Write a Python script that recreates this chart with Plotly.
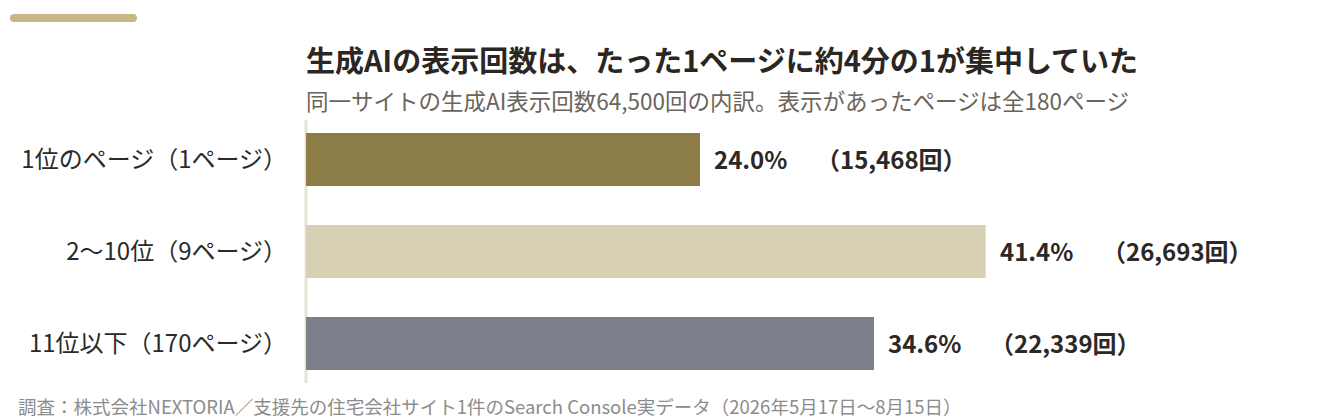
import plotly.graph_objects as go

categories = ["1位のページ（1ページ）", "2〜10位（9ページ）", "11位以下（170ページ）"]
shares = [24.0, 41.4, 34.6]
counts = [15468, 26693, 22339]
bar_colors = ["#8c7d47", "#d8d0b5", "#7d808b"]

title = "生成AIの表示回数は、たった1ページに約4分の1が集中していた"
subtitle = "同一サイトの生成AI表示回数64,500回の内訳。表示があったページは全180ページ"
source = "調査：株式会社NEXTORIA／支援先の住宅会社サイト1件のSearch Console実データ（2026年5月17日〜8月15日）"

FONT = "Noto Sans CJK JP"

# the page adds an 8px body margin, so the figure is laid out 8px up/left
# plot area (page px): x 306..1291, y 120..383
def px_x(p):
    return (p - 306) / 985

def px_y(p):
    return (383 - p) / 263

fig = go.Figure(go.Bar(
    x=shares,
    y=categories,
    orientation="h",
    marker=dict(color=bar_colors, line=dict(width=0)),
    width=0.576,
    hoverinfo="skip",
))

# value labels next to the bars
for cat, s, c in zip(categories, shares, counts):
    fig.add_annotation(x=s, y=cat, text=f"<b>{s:.1f}%</b>", showarrow=False,
                       xanchor="left", xshift=12, yshift=1,
                       font=dict(family=FONT, size=24, color="#2b2825"))
    fig.add_annotation(x=s, y=cat, text=f"<b>（{c:,}回）</b>", showarrow=False,
                       xanchor="left", xshift=114, yshift=1,
                       font=dict(family=FONT, size=24, color="#2b2825"))

fig.add_annotation(xref="paper", yref="paper", x=px_x(304), y=px_y(59),
                   text=f"<b>{title}</b>", showarrow=False, xanchor="left", yanchor="middle",
                   font=dict(family=FONT, size=29, color="#2b2622"))
fig.add_annotation(xref="paper", yref="paper", x=px_x(304), y=px_y(100),
                   text=subtitle, showarrow=False, xanchor="left", yanchor="middle",
                   font=dict(family=FONT, size=22.5, color="#6b645b"))
fig.add_annotation(xref="paper", yref="paper", x=px_x(16), y=px_y(406),
                   text=source, showarrow=False, xanchor="left", yanchor="middle",
                   font=dict(family=FONT, size=18.5, color="#8c8c8c"))

# decorative bar top-left (rounded ends) and axis line
fig.add_shape(type="line", xref="paper", yref="paper",
              x0=px_x(14), x1=px_x(133), y0=px_y(18), y1=px_y(18),
              line=dict(color="#c5b888", width=8))
for cx in (14, 133):
    fig.add_shape(type="circle", xref="paper", yref="paper",
                  x0=px_x(cx - 4), x1=px_x(cx + 4), y0=px_y(22), y1=px_y(14),
                  line=dict(width=0), fillcolor="#c5b888")
fig.add_shape(type="line", xref="paper", yref="paper", x0=0, x1=0, y0=0, y1=1,
              line=dict(color="#e8e4d2", width=3), layer="below")

fig.update_layout(
    width=1344, height=420,
    margin=dict(l=298, r=61, t=112, b=45),
    paper_bgcolor="white", plot_bgcolor="white",
    showlegend=False,
    font=dict(family=FONT),
    xaxis=dict(range=[0, 60], visible=False, fixedrange=True),
    yaxis=dict(range=[2.43, -0.43], showgrid=False, showline=False, zeroline=False,
               ticks="", ticklabelstandoff=18,
               tickfont=dict(family=FONT, size=24, color="#2a2a2a")),
)

fig.write_html("out.html")
